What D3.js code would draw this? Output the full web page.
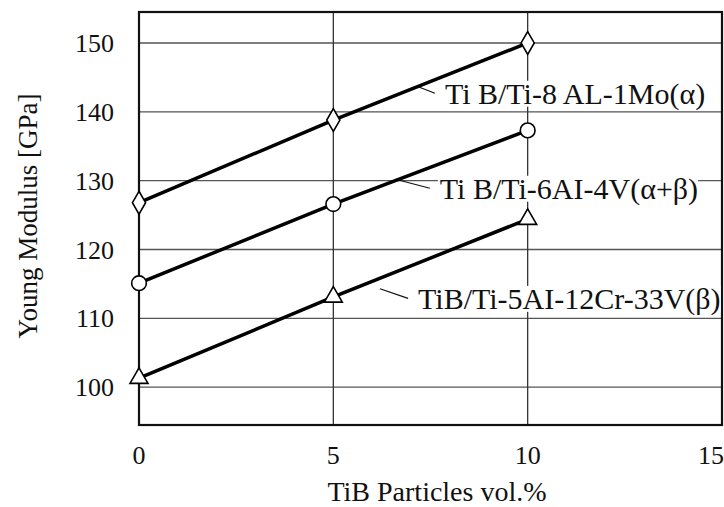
<!DOCTYPE html>
<html lang="en">
<head>
    <meta charset="UTF-8">
    <title>Young Modulus vs TiB Particles</title>
    <script src="https://d3js.org/d3.v7.min.js"></script>
    <style>
        body { margin: 0; background: #fff; }
        text { font-family: "Liberation Serif", "Times New Roman", serif; fill: #111; }
    </style>
</head>
<body>
    <svg id="chart"></svg>
    <script>
        // data
        const tibVolume = [0, 5, 10];
        const alphaValues = [126.8, 138.8, 150.0];      // Ti-8Al-1Mo
        const alphaBetaValues = [115.1, 126.6, 137.3];  // Ti-6Al-4V
        const betaValues = [101.3, 113.1, 124.4];       // Ti-5Al-12Cr-33V
        const xTicks = [0, 5, 10, 15];
        const yTicks = [100, 110, 120, 130, 140, 150];
        const seriesLabels = ["Ti B/Ti-8 AL-1Mo(\u03b1)", "Ti B/Ti-6AI-4V(\u03b1+\u03b2)", "TiB/Ti-5AI-12Cr-33V(\u03b2)"];
        // label anchor (x, y) and leader start (lx, ly) in data units
        const labelX = [7.87, 7.74, 7.18];
        const labelY = [142.7, 128.9, 112.9];
        const leaderX = [7.2, 6.6, 6.2];
        const leaderY = [143.6, 130.2, 114.3];

        const width = 724, height = 507;
        const svg = d3.select("#chart").attr("width", width).attr("height", height);

        const x = d3.scaleLinear().domain([0, 15]).range([139, 722]);
        const y = d3.scaleLinear().domain([94.5, 154.5]).range([425, 12]);

        // grid
        svg.append("g").selectAll("line").data(yTicks).join("line")
            .attr("x1", x(0)).attr("x2", x(15))
            .attr("y1", d => y(d)).attr("y2", d => y(d))
            .attr("stroke", "#555").attr("stroke-width", 1.3);
        svg.append("g").selectAll("line").data(xTicks.slice(1, 3)).join("line")
            .attr("x1", d => x(d)).attr("x2", d => x(d))
            .attr("y1", y(94.5)).attr("y2", y(154.5))
            .attr("stroke", "#333").attr("stroke-width", 1.3);

        // frame
        svg.append("rect")
            .attr("x", x(0)).attr("y", y(154.5))
            .attr("width", x(15) - x(0)).attr("height", y(94.5) - y(154.5))
            .attr("fill", "none").attr("stroke", "#111").attr("stroke-width", 2.2);

        // tick labels
        svg.append("g").selectAll("text").data(yTicks).join("text")
            .attr("x", 114).attr("y", d => y(d)).attr("dy", "0.35em")
            .attr("text-anchor", "end").attr("font-size", 26).text(d => d);
        svg.append("g").selectAll("text").data(xTicks).join("text")
            .attr("x", (d, i) => i === xTicks.length - 1 ? x(d) + 2 : x(d)).attr("y", 464)
            .attr("text-anchor", (d, i) => i === xTicks.length - 1 ? "end" : "middle")
            .attr("font-size", 26).text(d => d);

        // axis titles
        svg.append("text").attr("x", 437).attr("y", 501)
            .attr("text-anchor", "middle").attr("font-size", 28).text("TiB Particles vol.%");
        svg.append("text").attr("transform", "translate(37,216) rotate(-90)")
            .attr("text-anchor", "middle").attr("font-size", 27).text("Young Modulus [GPa]");

        // annotations with white backing
        const ann = svg.append("g");
        seriesLabels.forEach((label, i) => {
            ann.append("line")
                .attr("x1", x(leaderX[i])).attr("y1", y(leaderY[i]))
                .attr("x2", x(labelX[i]) - 10).attr("y2", y(labelY[i]))
                .attr("stroke", "#111").attr("stroke-width", 1.2);
            const t = ann.append("text")
                .attr("x", x(labelX[i])).attr("y", y(labelY[i])).attr("dy", "0.35em")
                .attr("font-size", 30).text(label);
            const b = t.node().getBBox();
            ann.insert("rect", () => t.node())
                .attr("x", b.x - 2).attr("y", b.y + 4)
                .attr("width", b.width + 2).attr("height", b.height - 8)
                .attr("fill", "#fff");
        });

        // series
        const series = [
            { values: alphaValues, symbol: d3.symbolDiamond, size: 150 },
            { values: alphaBetaValues, symbol: d3.symbolCircle, size: 170 },
            { values: betaValues, symbol: d3.symbolTriangle, size: 140 }
        ];
        const line = d3.line().x((d, i) => x(tibVolume[i])).y(d => y(d));
        series.forEach(s => {
            svg.append("path").datum(s.values).attr("d", line)
                .attr("fill", "none").attr("stroke", "#000").attr("stroke-width", 3.5);
            svg.append("g").selectAll("path").data(s.values).join("path")
                .attr("transform", (d, i) => `translate(${x(tibVolume[i])},${y(d)})`)
                .attr("d", d3.symbol().type(s.symbol).size(s.size))
                .attr("fill", "#fff").attr("stroke", "#000").attr("stroke-width", 1.6);
        });
    </script>
</body>
</html>
